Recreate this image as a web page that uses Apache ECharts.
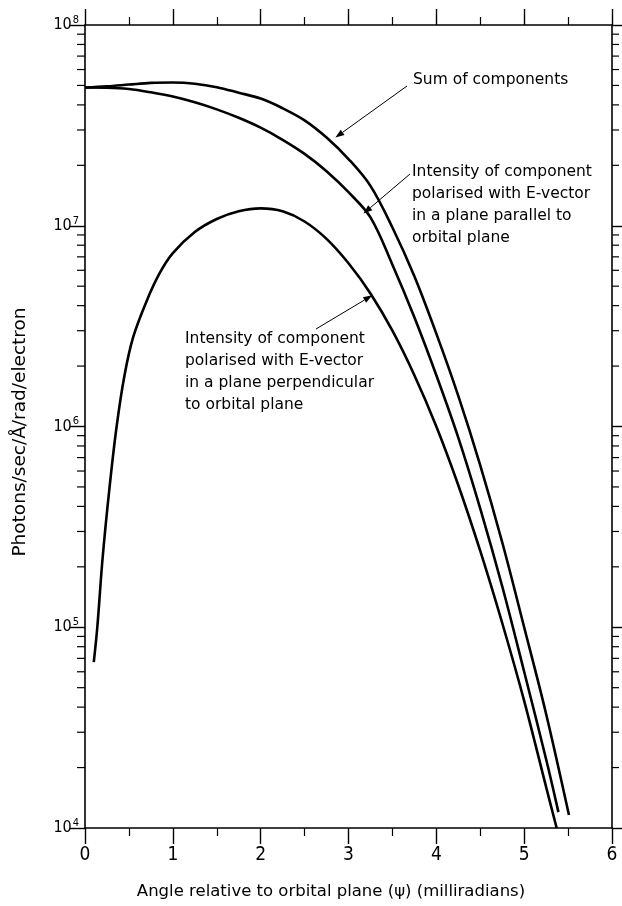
<!DOCTYPE html>
<html>
<head>
<meta charset="utf-8">
<script src="https://cdn.jsdelivr.net/npm/echarts@6/dist/echarts.min.js"></script>
<style>
  html, body { margin: 0; padding: 0; background: #fff; }
  #chart { width: 622px; height: 906px; }
</style>
</head>
<body>
<div id="chart"></div>
<script>
// Angular distribution of synchrotron radiation (photons/sec/Å/rad/electron)

// Sum of both polarisation components
const sumAngle  = [0, 0.25, 0.5, 0.75, 1.0, 1.25, 1.5, 1.75, 2.0, 2.25, 2.5, 2.75, 3.0, 3.25, 3.5, 3.75, 4.0, 4.25, 4.5, 4.75, 5.0, 5.25, 5.51];
const sumValues = [4.88e7, 4.95e7, 5.05e7, 5.15e7, 5.17e7, 5.1e7, 4.9e7, 4.6e7, 4.3e7, 3.85e7, 3.35e7, 2.75e7, 2.15e7, 1.58e7, 9.8e6, 5.6e6, 2.9e6, 1.42e6, 6.4e5, 2.65e5, 1.0e5, 3.7e4, 1.16e4];

// Component polarised parallel to the orbital plane
const parAngle  = [0, 0.25, 0.5, 0.75, 1.0, 1.25, 1.5, 1.75, 2.0, 2.25, 2.5, 2.75, 3.0, 3.25, 3.5, 3.75, 4.0, 4.25, 4.5, 4.75, 5.0, 5.25, 5.39];
const parValues = [4.88e7, 4.87e7, 4.8e7, 4.62e7, 4.4e7, 4.12e7, 3.8e7, 3.45e7, 3.08e7, 2.68e7, 2.28e7, 1.87e7, 1.47e7, 1.1e7, 6.4e6, 3.5e6, 1.8e6, 8.8e5, 3.9e5, 1.6e5, 6.0e4, 2.2e4, 1.2e4];

// Component polarised perpendicular to the orbital plane
const perpAngle  = [0.10, 0.14, 0.20, 0.28, 0.36, 0.45, 0.55, 0.70, 0.85, 1.0, 1.25, 1.5, 1.75, 2.0, 2.25, 2.5, 2.75, 3.0, 3.25, 3.5, 3.75, 4.0, 4.25, 4.5, 4.75, 5.0, 5.25, 5.37];
const perpValues = [6.7e4, 1.0e5, 2.2e5, 5.0e5, 1.0e6, 1.8e6, 2.8e6, 4.2e6, 5.8e6, 7.3e6, 9.3e6, 1.08e7, 1.18e7, 1.22e7, 1.18e7, 1.05e7, 8.6e6, 6.5e6, 4.6e6, 3.0e6, 1.8e6, 1.0e6, 5.1e5, 2.4e5, 1.05e5, 4.3e4, 1.6e4, 1.0e4];

// Axis ticks
const xTicks = [0, 1, 2, 3, 4, 5, 6];
const yDecades = [4, 5, 6, 7, 8];
const minorMultipliers = [2, 3, 4, 5, 6, 7, 8, 9];

// Annotation texts with the point each leader arrow touches
const sumNote = { lines: ['Sum of components'], text: [413, 80], from: [407, 86], tip: [2.85, 2.75e7] };
const parNote = { lines: ['Intensity of component', 'polarised with E-vector', 'in a plane parallel to', 'orbital plane'], text: [412, 172], from: [410, 174], tip: [3.17, 1.15e7] };
const perpNote = { lines: ['Intensity of component', 'polarised with E-vector', 'in a plane perpendicular', 'to orbital plane'], text: [185, 339], from: [316, 329], tip: [3.27, 4.5e6] };

const FONT = "'DejaVu Sans', sans-serif";
const NUMFONT = "'Liberation Sans Narrow', 'DejaVu Sans Condensed', 'Liberation Sans', sans-serif";

const pairs = (xs, ys) => xs.map((x, i) => [x, ys[i]]);
const minorTickData = [];
yDecades.slice(0, -1).forEach(d => minorMultipliers.forEach(m => minorTickData.push([0, m * Math.pow(10, d)])));

const chart = echarts.init(document.getElementById('chart'), null, { renderer: 'canvas' });

const curveStyle = { color: '#000', width: 2.6 };
const lineSeries = (name, data) => ({
  name, type: 'line', data, symbol: 'none', smooth: 0.35,
  lineStyle: curveStyle, itemStyle: { color: '#000' }, z: 5, silent: true
});

const xAxisBase = {
  type: 'value', min: 0, max: 6, interval: 1,
  axisLine: { show: true, onZero: false, lineStyle: { color: '#000', width: 1.6 } },
  axisTick: { show: true, inside: false, length: 16, lineStyle: { color: '#000', width: 1.4 } },
  minorTick: { show: true, splitNumber: 2, length: 8, lineStyle: { color: '#000', width: 1.2 } },
  splitLine: { show: false }
};
const yAxisBase = {
  type: 'log', logBase: 10, min: 1e4, max: 1e8,
  axisLine: { show: true, onZero: false, lineStyle: { color: '#000', width: 1.6 } },
  axisTick: { show: true, inside: false, length: 15, lineStyle: { color: '#000', width: 1.4 } },
  minorTick: { show: false },
  splitLine: { show: false }
};

chart.setOption({
  animation: false,
  backgroundColor: '#fff',
  grid: { left: 85, right: 10, top: 25, bottom: 78, containLabel: false },
  xAxis: [
    Object.assign({}, xAxisBase, {
      position: 'bottom',
      axisLabel: { show: true, margin: 18, color: '#000', fontSize: 19, fontFamily: NUMFONT,
        formatter: v => xTicks.includes(v) ? String(v) : '' }
    }),
    Object.assign({}, xAxisBase, { position: 'top', axisLabel: { show: false } })
  ],
  yAxis: [
    Object.assign({}, yAxisBase, {
      position: 'left',
      axisLabel: {
        show: true, margin: 6, color: '#000', fontFamily: NUMFONT,
        formatter: v => '10{sup|' + Math.round(Math.log10(v)) + '}',
        rich: {
          sup: { fontSize: 11, fontFamily: NUMFONT, color: '#000', verticalAlign: 'bottom', padding: [0, 0, 10, 1] }
        },
        fontSize: 16
      }
    }),
    Object.assign({}, yAxisBase, { position: 'right', axisTick: Object.assign({}, yAxisBase.axisTick, { length: 10 }), axisLabel: { show: false } })
  ],
  series: [
    lineSeries('Sum of components', pairs(sumAngle, sumValues)),
    lineSeries('Parallel component', pairs(parAngle, parValues)),
    lineSeries('Perpendicular component', pairs(perpAngle, perpValues)),
    {
      // minor decade ticks (2..9) on both vertical axes
      type: 'custom', name: 'minorTicks', data: minorTickData, clip: false, silent: true,
      encode: { x: 0, y: 1 },
      renderItem: (params, api) => {
        const cs = params.coordSys;
        const y = api.coord([0, api.value(1)])[1];
        const st = { stroke: '#000', lineWidth: 1.2 };
        return {
          type: 'group',
          children: [
            { type: 'line', shape: { x1: cs.x - 8, y1: y, x2: cs.x, y2: y }, style: st },
            { type: 'line', shape: { x1: cs.x + cs.width, y1: y, x2: cs.x + cs.width + 7, y2: y }, style: st }
          ]
        };
      }
    }
  ]
});

// Annotations: leader lines with arrowheads, and text blocks
function arrow(from, tipData) {
  const tip = chart.convertToPixel({ gridIndex: 0 }, tipData);
  const dx = tip[0] - from[0], dy = tip[1] - from[1];
  const len = Math.hypot(dx, dy);
  const ux = dx / len, uy = dy / len;
  const headL = 9, headW = 3.2;
  const bx = tip[0] - ux * headL, by = tip[1] - uy * headL;
  return [
    { type: 'line', shape: { x1: from[0], y1: from[1], x2: bx, y2: by }, style: { stroke: '#000', lineWidth: 1 } },
    { type: 'polygon', shape: { points: [tip, [bx - uy * headW, by + ux * headW], [bx + uy * headW, by - ux * headW]] }, style: { fill: '#000' } }
  ];
}
function noteText(note) {
  return note.lines.map((t, i) => ({
    type: 'text', x: note.text[0], y: note.text[1] + i * 22,
    style: { text: t, fill: '#000', font: '15.5px ' + FONT, textVerticalAlign: 'middle' }
  }));
}

const graphics = [].concat(
  arrow(sumNote.from, sumNote.tip), noteText(sumNote),
  arrow(parNote.from, parNote.tip), noteText(parNote),
  arrow(perpNote.from, perpNote.tip), noteText(perpNote),
  [
    { type: 'text', x: 20, y: 432, rotation: Math.PI / 2, originX: 0, originY: 0,
      style: { text: 'Photons/sec/Å/rad/electron', fill: '#000', font: '18.5px ' + FONT, textAlign: 'center', textVerticalAlign: 'middle' } },
    { type: 'text', x: 331, y: 892,
      style: { text: 'Angle relative to orbital plane (ψ) (milliradians)', fill: '#000', font: '16.5px ' + FONT, textAlign: 'center', textVerticalAlign: 'middle' } }
  ]
);
chart.setOption({ graphic: graphics });
</script>
</body>
</html>
